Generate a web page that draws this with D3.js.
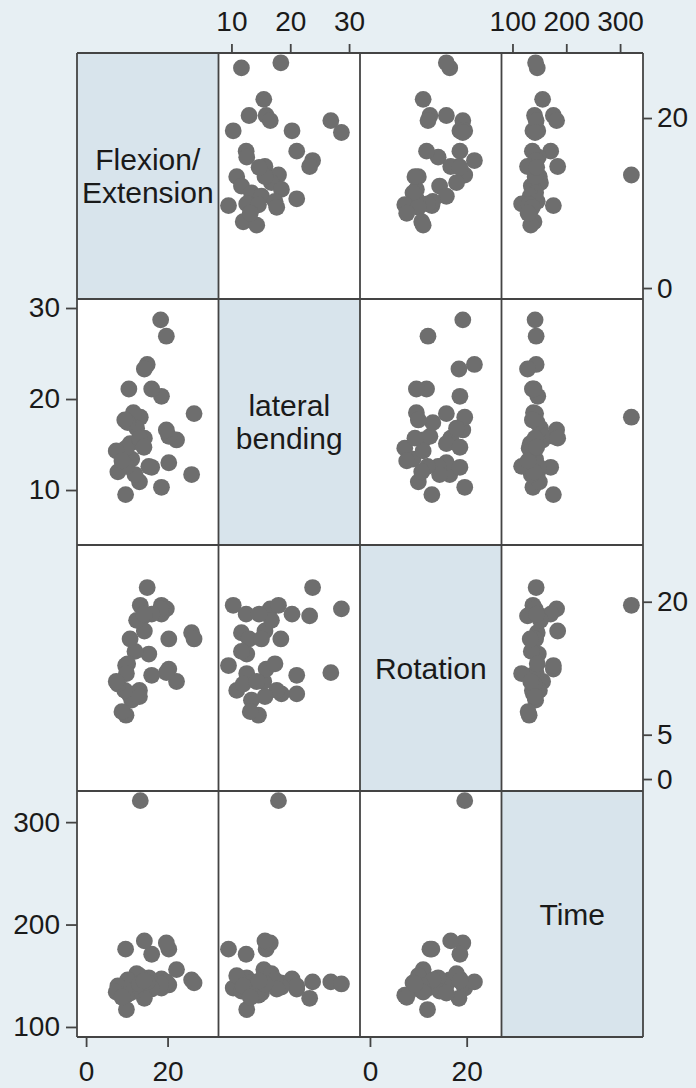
<!DOCTYPE html>
<html>
<head>
<meta charset="utf-8">
<script src="https://cdn.jsdelivr.net/npm/d3@7"></script>
<style>
  html, body { margin: 0; padding: 0; background: #e7eff3; }
  svg { display: block; }
  text { font-family: "Liberation Sans", Arial, sans-serif; fill: #1a1a1a; }
</style>
</head>
<body>
<svg id="chart" width="696" height="1088"></svg>
<script>
// ---- data (one row per observation, one array per variable) ----
const variables = ["Flexion/Extension", "lateral bending", "Rotation", "Time"];
const diagLabels = [["Flexion/", "Extension"], ["lateral", "bending"], ["Rotation"], ["Time"]];
const flexion = [25.9, 26.5, 22.2, 20.3, 20.3, 19.7, 18.5, 18.5, 19.7, 18.3, 16.1, 15.4, 16.1, 15.0, 14.3, 10.5, 9.7,
                 13.1, 12.0, 14.3, 13.3, 12.4, 11.6, 11.2, 10.8, 10.2, 9.9, 9.8, 9.5, 7.8, 7.4, 8.8, 13.1, 14.2];
const lateral = [11.7, 18.4, 15.5, 13.0, 15.9, 16.6, 10.3, 20.3, 26.9, 28.7, 12.5, 12.6, 21.1, 23.8, 23.3, 21.1, 9.5,
                 10.9, 11.7, 15.7, 18.0, 16.8, 18.5, 13.4, 15.1, 17.4, 12.6, 14.6, 17.7, 12.0, 14.3, 13.2, 15.7, 14.7];
const rotation = [16.5, 15.8, 11.0, 15.8, 12.4, 19.2, 19.6, 18.6, 12.0, 19.2, 18.6, 14.1, 11.7, 21.6, 18.4, 9.6, 12.8,
                  10.0, 14.4, 16.7, 19.6, 17.9, 9.6, 8.9, 15.8, 13.0, 11.9, 7.2, 10.0, 10.7, 11.0, 7.6, 9.3, 18.6];
const timeVals = [146, 143, 156, 141, 176, 182, 138, 147, 144, 142, 171, 148, 137, 144, 128, 140, 176,
                  150, 135, 184, 321, 152, 139, 143, 133, 146, 117, 131, 137, 140, 134, 129, 142, 145];
const series = [flexion, lateral, rotation, timeVals];

// axis tick values
const flexTicks = [0, 20];
const latTicks = [10, 20, 30];
const rotTicks = [0, 5, 20];
const rotBottomTicks = [0, 20];
const timeTicks = [100, 200, 300];

// ---- layout ----
const gLeft = 77, gTop = 53, cellW = 141.5, cellH = 246, n = 4;
const xDomains = [[-2.23, 32.5], [7.8, 31.86], [-2.06, 27.2], [79.6, 342.6]];
const yDomains = [[-1.29, 27.65], [3.96, 30.99], [-1.35, 26.4], [90.2, 330.4]];

const svg = d3.select("#chart");
const W = 696, H = 1088;
svg.append("rect").attr("width", W).attr("height", H).attr("fill", "#e7eff3");

const xs = d3.range(n).map(j => d3.scaleLinear().domain(xDomains[j]).range([gLeft + j * cellW, gLeft + (j + 1) * cellW]));
const ys = d3.range(n).map(i => d3.scaleLinear().domain(yDomains[i]).range([gTop + (i + 1) * cellH, gTop + i * cellH]));

const defs = svg.append("defs");
const g = svg.append("g");

for (let i = 0; i < n; i++) {
  for (let j = 0; j < n; j++) {
    const x0 = gLeft + j * cellW, y0 = gTop + i * cellH;
    g.append("rect").attr("x", x0).attr("y", y0).attr("width", cellW).attr("height", cellH)
      .attr("fill", i === j ? "#d8e4ec" : "#ffffff");
    if (i === j) {
      const lines = diagLabels[i];
      const lh = 33;
      const cy = y0 + cellH / 2 - (lines.length - 1) * lh / 2;
      lines.forEach((t, k) => {
        g.append("text").attr("x", x0 + cellW / 2).attr("y", cy + k * lh).attr("dy", "0.36em")
          .attr("text-anchor", "middle").attr("font-size", 30).text(t);
      });
    } else {
      const cid = `clip-${i}-${j}`;
      defs.append("clipPath").attr("id", cid).append("rect")
        .attr("x", x0).attr("y", y0).attr("width", cellW).attr("height", cellH);
      const pts = d3.range(flexion.length).map(k => [series[j][k], series[i][k]]);
      g.append("g").attr("clip-path", `url(#${cid})`)
        .selectAll("circle").data(pts).join("circle")
        .attr("cx", d => xs[j](d[0])).attr("cy", d => ys[i](d[1]))
        .attr("r", 8.4).attr("fill", "#6e6e6e");
    }
  }
}

// grid lines
const gridG = svg.append("g").attr("stroke", "#444444").attr("stroke-width", 1.8);
for (let k = 0; k <= n; k++) {
  gridG.append("line").attr("x1", gLeft + k * cellW).attr("x2", gLeft + k * cellW)
    .attr("y1", gTop).attr("y2", gTop + n * cellH);
  gridG.append("line").attr("y1", gTop + k * cellH).attr("y2", gTop + k * cellH)
    .attr("x1", gLeft).attr("x2", gLeft + n * cellW);
}

function styleAxis(sel) {
  sel.select(".domain").remove();
  sel.selectAll(".tick line").attr("stroke", "#444444").attr("stroke-width", 1.8);
  sel.selectAll(".tick text").attr("font-size", 28).attr("fill", "#1a1a1a")
    .attr("font-family", "'Liberation Sans', Arial, sans-serif");
}

const gBottom = gTop + n * cellH;
const gRight = gLeft + n * cellW;
// top axes: lateral (col 1), time (col 3)
svg.append("g").attr("transform", `translate(0,${gTop})`)
  .call(d3.axisTop(xs[1]).tickValues(latTicks).tickSize(9).tickPadding(13)).call(styleAxis);
svg.append("g").attr("transform", `translate(0,${gTop})`)
  .call(d3.axisTop(xs[3]).tickValues(timeTicks).tickSize(9).tickPadding(13)).call(styleAxis);
// bottom axes: flexion (col 0), rotation (col 2)
svg.append("g").attr("transform", `translate(0,${gBottom})`)
  .call(d3.axisBottom(xs[0]).tickValues(flexTicks).tickSize(10).tickPadding(14)).call(styleAxis);
svg.append("g").attr("transform", `translate(0,${gBottom})`)
  .call(d3.axisBottom(xs[2]).tickValues(rotBottomTicks).tickSize(10).tickPadding(14)).call(styleAxis);
// left axes: lateral (row 1), time (row 3)
svg.append("g").attr("transform", `translate(${gLeft},0)`)
  .call(d3.axisLeft(ys[1]).tickValues(latTicks).tickSize(11).tickPadding(6)).call(styleAxis);
svg.append("g").attr("transform", `translate(${gLeft},0)`)
  .call(d3.axisLeft(ys[3]).tickValues(timeTicks).tickSize(11).tickPadding(6)).call(styleAxis);
// right axes: flexion (row 0), rotation (row 2)
svg.append("g").attr("transform", `translate(${gRight},0)`)
  .call(d3.axisRight(ys[0]).tickValues(flexTicks).tickSize(9).tickPadding(5)).call(styleAxis);
svg.append("g").attr("transform", `translate(${gRight},0)`)
  .call(d3.axisRight(ys[2]).tickValues(rotTicks).tickSize(9).tickPadding(5)).call(styleAxis);
</script>
</body>
</html>
